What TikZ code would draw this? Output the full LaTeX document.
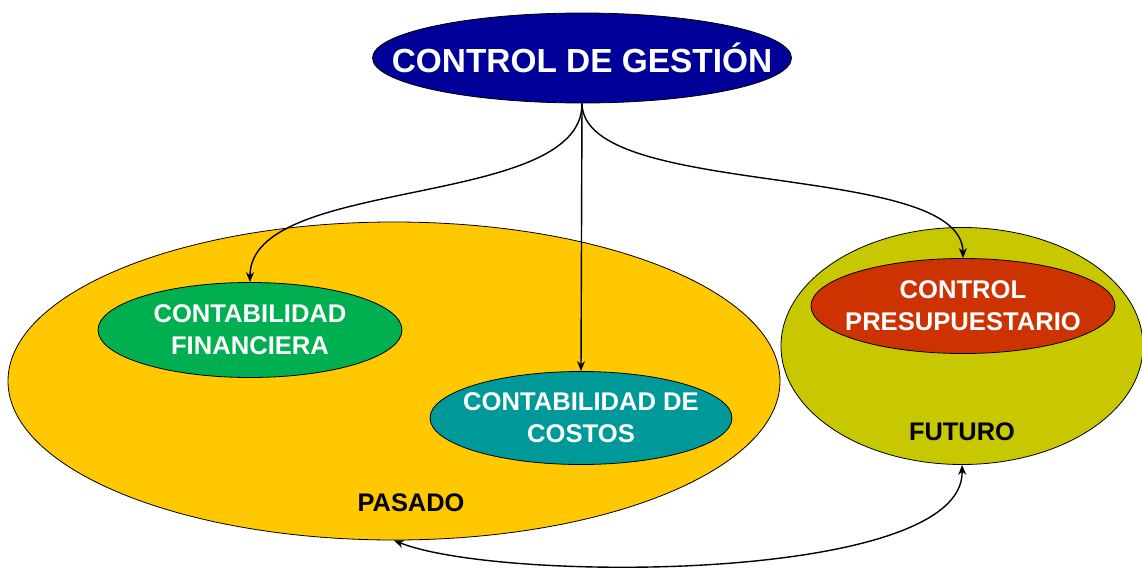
\documentclass[tikz,border=0pt]{standalone}
\usepackage{fontspec}
\setmainfont{Liberation Sans}
\usetikzlibrary{shapes.geometric,arrows.meta}
\definecolor{navy}{HTML}{000099}
\definecolor{amarillo}{HTML}{FFC800}
\definecolor{verde}{HTML}{00B050}
\definecolor{turquesa}{HTML}{009999}
\definecolor{oliva}{HTML}{C8C800}
\definecolor{rojo}{HTML}{CC3300}
\tikzset{
  area/.style={ellipse,draw=black,line width=0.4pt,inner sep=0pt},
  caja/.style={area,inner xsep=-1cm,text=white,font=\bfseries\fontsize{12.8}{16}\selectfont,align=center},
  etiqueta/.style={font=\bfseries\fontsize{12.7}{14}\selectfont}
}
\begin{document}
\begin{tikzpicture}[x=0.5pt,y=-0.5pt,>={Stealth[length=5pt,width=4pt]},line width=0.7pt]
    \useasboundingbox[fill=white] (0,0) rectangle (1142,568);
    \node[area,fill=amarillo,minimum width=772*0.5pt,minimum height=318*0.5pt] (pasado) at (394,381) {};
    \node[area,fill=oliva,minimum width=362*0.5pt,minimum height=237*0.5pt]    (futuro) at (962,346) {};
    \node[caja,fill=navy,font=\bfseries\fontsize{16.7}{18}\selectfont,minimum width=419*0.5pt,minimum height=90*0.5pt] (gestion) at (582,58) {CONTROL DE GESTIÓN};
    \node[caja,fill=verde,minimum width=304*0.5pt,minimum height=95*0.5pt]     (financiera) at (250,330) {CONTABILIDAD\\FINANCIERA};
    \node[caja,fill=turquesa,minimum width=302*0.5pt,minimum height=93*0.5pt]  (costos) at (581,418) {CONTABILIDAD DE\\COSTOS};
    \node[caja,fill=rojo,minimum width=304*0.5pt,minimum height=95*0.5pt]      (presup) at (963,306) {CONTROL\\PRESUPUESTARIO};
    \node[etiqueta] (lblpasado) at (411,503) {PASADO};
    \node[etiqueta] (lblfuturo) at (962,432) {FUTURO};
    \draw[->] (gestion.south) .. controls (583,210) and (250,175) .. (financiera.north);
    \draw[->] (gestion.south) -- (costos.north);
    \draw[->] (gestion.south) .. controls (583,200) and (962,160) .. (presup.north);
    \draw[<->] (pasado.south) .. controls (500,583) and (965,583) .. (futuro.south);
\end{tikzpicture}
\end{document}
